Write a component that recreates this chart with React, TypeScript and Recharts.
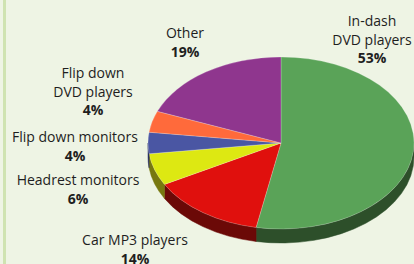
import React from 'react';
import { PieChart, Pie, Cell } from 'recharts';

const categories = ['In-dash DVD players', 'Car MP3 players', 'Headrest monitors', 'Flip down monitors', 'Flip down DVD players', 'Other'];
const shares = [53, 14, 6, 4, 4, 19];
const labelLines = [['In-dash', 'DVD players'], ['Car MP3 players'], ['Headrest monitors'], ['Flip down monitors'], ['Flip down', 'DVD players'], ['Other']];

const topColors = ['#5aa358', '#e0100d', '#dde812', '#4a56a3', '#ff6a3b', '#8f368e'];
const sideColors = ['#2d4f2a', '#6b0907', '#77780f', '#2a3060', '#8a3a20', '#4a1c4a'];
// label anchor layout (centre x, first-line baseline y)
const labelPos = [[372, 26], [135, 245], [78, 185], [75, 142], [93, 78], [185, 38]];

const data = categories.map((name, i) => ({ name, value: shares[i] }));

const CX = 281;
const CY = 143;
const RX = 133;
const RY = 86;
const DEPTH = 14;
const LINE_H = 18.5;

const pt = (cx: number, cy: number, deg: number, dy = 0) => {
  const r = (deg * Math.PI) / 180;
  return [cx + RX * Math.cos(r), cy - RY * Math.sin(r) + dy];
};

const SliceShape = (props: any) => {
  const { cx, cy, startAngle, endAngle, index } = props;
  const a1 = startAngle;
  const a2 = endAngle;
  const [x1, y1] = pt(cx, cy, a1);
  const [x2, y2] = pt(cx, cy, a2);
  const large = Math.abs(a2 - a1) > 180 ? 1 : 0;
  const sweep = a2 < a1 ? 1 : 0;
  const top = `M${cx},${cy} L${x1},${y1} A${RX},${RY} 0 ${large} ${sweep} ${x2},${y2} Z`;
  const lo = Math.max(Math.min(a1, a2), -180);
  const hi = Math.min(Math.max(a1, a2), 0);
  let wall: string | null = null;
  if (hi > lo) {
    const [wx1, wy1] = pt(cx, cy, lo);
    const [wx2, wy2] = pt(cx, cy, hi);
    const [bx1, by1] = pt(cx, cy, lo, DEPTH);
    const [bx2, by2] = pt(cx, cy, hi, DEPTH);
    wall = `M${wx1},${wy1} A${RX},${RY} 0 0 0 ${wx2},${wy2} L${bx2},${by2} A${RX},${RY} 0 0 1 ${bx1},${by1} Z`;
  }
  return (
    <g>
      {wall && <path d={wall} fill={sideColors[index]} stroke={sideColors[index]} strokeWidth={0.5} />}
      <path d={top} fill={topColors[index]} stroke="rgba(255,255,255,0.35)" strokeWidth={0.6} />
    </g>
  );
};

const renderLabel = (props: any) => {
  const { index } = props;
  const [x, y] = labelPos[index];
  const lines = labelLines[index];
  return (
    <text x={x} y={y} textAnchor="middle" fill="#1e1e1e" fontSize={14} fontFamily="'Open Sans', sans-serif">
      {lines.map((l, i) => (
        <tspan key={i} x={x} y={y + i * LINE_H}>{l}</tspan>
      ))}
      <tspan x={x} y={y + lines.length * LINE_H} fontWeight="bold">{shares[index]}%</tspan>
    </text>
  );
};

export default function App() {
  return (
    <div style={{ position: 'absolute', left: 0, top: 0, width: 414, height: 264, background: '#eef4e4', overflow: 'hidden' }}>
      <div style={{ position: 'absolute', left: 3, top: 0, width: 3, height: 264, background: '#cfe3b1' }} />
      <PieChart width={414} height={264} margin={{ top: 0, right: 0, bottom: 0, left: 0 }} style={{ position: 'absolute', left: 0, top: 0 }}>
        <Pie
          data={data}
          dataKey="value"
          nameKey="name"
          cx={CX}
          cy={CY}
          outerRadius={RX}
          startAngle={90}
          endAngle={-270}
          shape={SliceShape}
          activeShape={SliceShape}
          label={renderLabel}
          labelLine={false}
          isAnimationActive={false}
        >
          {data.map((d, i) => (
            <Cell key={d.name} fill={topColors[i]} />
          ))}
        </Pie>
      </PieChart>
    </div>
  );
}
